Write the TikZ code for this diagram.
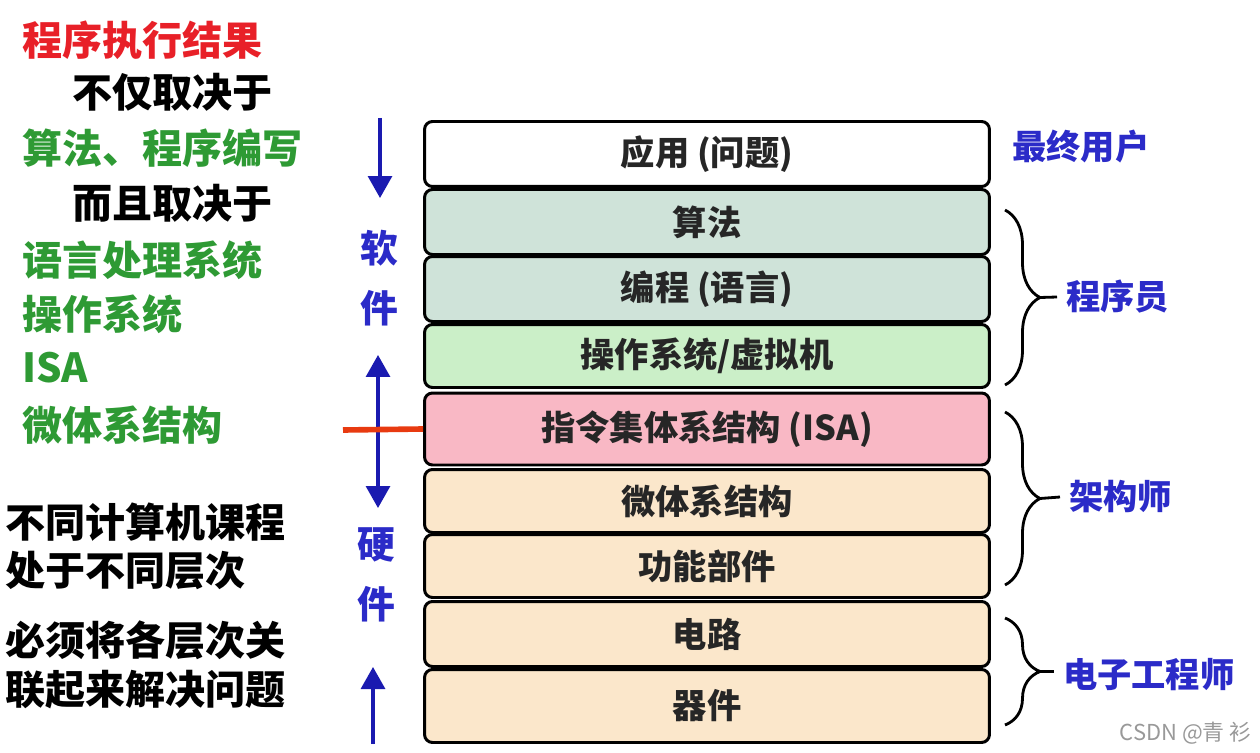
\documentclass[tikz,border=0pt]{standalone}
\usepackage{fontspec}
\setmainfont{Noto Sans CJK SC}
\usetikzlibrary{arrows.meta,decorations.pathreplacing}
\definecolor{arrblue}{HTML}{1A1AB0}
\definecolor{roleblue}{HTML}{2B2BC8}
\definecolor{notered}{HTML}{E82028}
\definecolor{notegreen}{HTML}{2E9A34}
\definecolor{swteal}{HTML}{CFE3D9}
\definecolor{swgreen}{HTML}{CBEFC8}
\definecolor{isapink}{HTML}{F9B8C5}
\definecolor{hwpeach}{HTML}{FBE7CB}
\tikzset{
  layer/.style={draw, rounded corners=4.5pt, line width=1.7pt, minimum width=11.3cm, inner sep=0pt, text=black!85, font=\bfseries\fontsize{19.5}{22}\selectfont},
  note/.style={anchor=west, inner sep=0pt, font=\bfseries\fontsize{22.8}{26}\selectfont},
  role/.style={anchor=west, inner xsep=5pt, inner ysep=0pt, text=roleblue, font=\bfseries\fontsize{19.5}{22}\selectfont},
  side/.style={inner sep=0pt, align=center, text=roleblue, font=\bfseries\fontsize{21.5}{34.5}\selectfont},
  arr/.style={-{Triangle[length=4.4mm,width=4.8mm]}, line width=1.8pt, draw=arrblue, fill=arrblue},
  darr/.style={{Triangle[length=4.4mm,width=4.8mm]}-{Triangle[length=4.4mm,width=4.8mm]}, line width=1.8pt, draw=arrblue, fill=arrblue},
  brc/.style={decorate, decoration={brace, amplitude=0.7cm}, line width=1.6pt},
}
\begin{document}
\begin{tikzpicture}[x=0.02cm, y=-0.02cm]
\useasboundingbox (0,0) rectangle (1260,753);
% left column
\node[note, text=notered] (n1) at (22,40) {程序执行结果};
\node[note] (n2) at (72,92) {不仅取决于};
\node[note, text=notegreen] (n3) at (22,148) {算法、程序编写};
\node[note] (n4) at (72,203) {而且取决于};
\node[note, text=notegreen] (n5) at (22,260) {语言处理系统};
\node[note, text=notegreen] (n6) at (22,314) {操作系统};
\node[note, text=notegreen] (n7) at (22,368) {ISA};
\node[note, text=notegreen] (n8) at (22,425) {微体系结构};
\node[note] (n9) at (5,522) {不同计算机课程};
\node[note] (n10) at (5,570) {处于不同层次};
\node[note] (n11) at (5,640) {必须将各层次关};
\node[note] (n12) at (5,690) {联起来解决问题};
% layers
\node[layer, fill=white, minimum height=1.30cm] (app) at (707,154) {应用 (问题)};
\node[layer, fill=swteal, minimum height=1.30cm] (alg) at (707,222) {算法};
\node[layer, fill=swteal, minimum height=1.30cm] (lang) at (707,289) {编程 (语言)};
\node[layer, fill=swgreen, minimum height=1.26cm] (os) at (707,356) {操作系统/虚拟机};
\node[layer, fill=isapink, minimum height=1.44cm] (isa) at (707,429) {指令集体系结构 (ISA)};
\node[layer, fill=hwpeach, minimum height=1.26cm] (uarch) at (707,501) {微体系结构};
\node[layer, fill=hwpeach, minimum height=1.26cm] (func) at (707,566) {功能部件};
\node[layer, fill=hwpeach, minimum height=1.30cm] (circ) at (707,634) {电路};
\node[layer, fill=hwpeach, minimum height=1.46cm] (dev) at (707,706) {器件};
% software / hardware
\node[side] (sw) at (379,278) {软\\件};
\node[side] (hw) at (376,575) {硬\\件};
\coordinate (swtop) at (380,118);
\coordinate (swbot) at (380,198);
\coordinate (mtop) at (378,355);
\coordinate (mbot) at (378,508);
\coordinate (hwbot) at (373,744);
\coordinate (hwtop) at (373,667);
\draw[arr] (swtop) -- (swbot);
\draw[darr] (mtop) -- (mbot);
\draw[arr] (hwbot) -- (hwtop);
\coordinate (cut) at (343,430);
\draw[line width=3.2pt, draw={rgb,255:red,232;green,58;blue,16}] (cut) -- (isa.west);
% roles
\node[role, inner xsep=0pt] (user) at (1012,147) {最终用户};
\node[role] (prog) at (1057,297) {程序员};
\node[role] (arch) at (1060,497) {架构师};
\node[role] (ee) at (1054,675) {电子工程师};
\draw[brc] (1005,210) -- (1005,385);
\draw[brc] (1005,412) -- (1005,585);
\draw[brc] (1005,618) -- (1005,725);
\coordinate (t1) at (1040,297.5);
\coordinate (t2) at (1040,498.5);
\coordinate (t3) at (1040,671.5);
\draw[line width=1.6pt] (t1) -- (prog.west);
\draw[line width=1.6pt] (t2) -- (arch.west);
\draw[line width=1.6pt] (t3) -- (ee.west |- t3);
\node[anchor=east, inner sep=0pt, text=black!40, font=\fontsize{12.5}{14}\selectfont] (mark) at (1252,733) {CSDN @青 衫};
\end{tikzpicture}
\end{document}
